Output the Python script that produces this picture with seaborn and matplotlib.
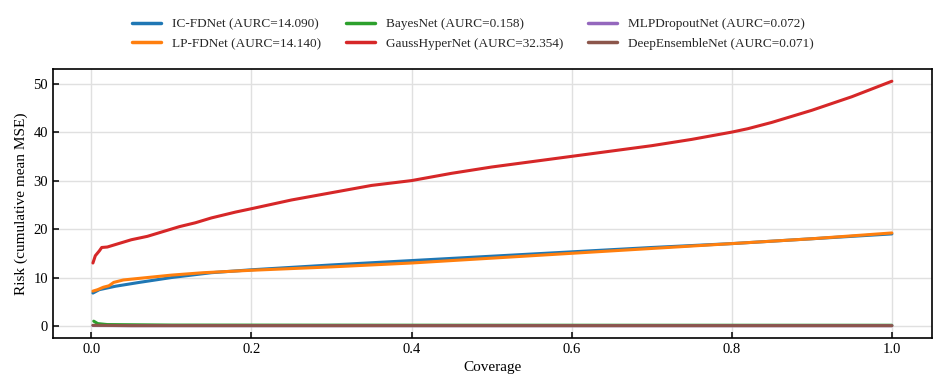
import numpy as np
import pandas as pd
import matplotlib
matplotlib.use("Agg")
import matplotlib.pyplot as plt
import seaborn as sns

# series
ic_x = [0.002, 0.01, 0.03, 0.06, 0.1, 0.15, 0.2, 0.3, 0.4, 0.5, 0.6, 0.7, 0.8, 0.9, 1.0]
ic_y = [6.8, 7.5, 8.2, 9.0, 10.0, 11.0, 11.6, 12.6, 13.5, 14.4, 15.3, 16.2, 17.0, 18.0, 19.0]

lp_x = [0.002, 0.008, 0.015, 0.022, 0.028, 0.04, 0.07, 0.1, 0.14, 0.2, 0.3, 0.4, 0.5, 0.6, 0.7, 0.8, 0.9, 1.0]
lp_y = [7.2, 7.5, 8.0, 8.3, 9.0, 9.5, 10.0, 10.5, 11.0, 11.5, 12.2, 13.0, 14.0, 15.0, 16.0, 17.0, 18.0, 19.2]

bayes_x = [0.003, 0.008, 0.02, 0.1, 0.4, 0.7, 1.0]
bayes_y = [1.0, 0.5, 0.3, 0.2, 0.17, 0.16, 0.16]

gauss_x = [0.002, 0.005, 0.01, 0.013, 0.02, 0.03, 0.04, 0.05, 0.07, 0.09, 0.11, 0.13, 0.15, 0.18,
           0.2, 0.25, 0.3, 0.35, 0.4, 0.45, 0.5, 0.6, 0.7, 0.75, 0.8, 0.82, 0.85, 0.9, 0.95, 1.0]
gauss_y = [13.0, 14.5, 15.5, 16.2, 16.3, 16.8, 17.3, 17.8, 18.5, 19.5, 20.5, 21.3, 22.3, 23.5,
           24.2, 26.0, 27.5, 29.0, 30.0, 31.5, 32.8, 35.0, 37.2, 38.5, 40.0, 40.7, 42.0, 44.5, 47.3, 50.5]

mlp_x = [0.002, 0.05, 0.5, 1.0]
mlp_y = [0.1, 0.07, 0.07, 0.07]

deep_x = [0.002, 0.05, 0.5, 1.0]
deep_y = [0.15, 0.08, 0.07, 0.07]

labels = ["IC-FDNet (AURC=14.090)", "LP-FDNet (AURC=14.140)", "BayesNet (AURC=0.158)",
          "GaussHyperNet (AURC=32.354)", "MLPDropoutNet (AURC=0.072)", "DeepEnsembleNet (AURC=0.071)"]
series = [(ic_x, ic_y), (lp_x, lp_y), (bayes_x, bayes_y), (gauss_x, gauss_y), (mlp_x, mlp_y), (deep_x, deep_y)]

frames = []
for lab, (xs, ys) in zip(labels, series):
    frames.append(pd.DataFrame({"Coverage": xs, "Risk": ys, "Model": lab}))
df = pd.concat(frames, ignore_index=True)

sns.set_theme(style="whitegrid")
plt.rcParams.update({
    "font.family": ["Liberation Serif", "DejaVu Serif"],
    "font.size": 10,
    "axes.edgecolor": "black",
    "axes.linewidth": 1.2,
    "grid.color": "#e0e0e0",
    "grid.linewidth": 1.0,
    "xtick.direction": "in",
    "ytick.direction": "in",
    "xtick.bottom": True,
    "ytick.left": True,
})

fig, ax = plt.subplots(figsize=(9.46, 3.92), dpi=100)
fig.subplots_adjust(left=0.056, right=0.985, top=0.824, bottom=0.138)

sns.lineplot(data=df, x="Coverage", y="Risk", hue="Model", hue_order=labels,
             palette=sns.color_palette("tab10", 6), linewidth=2.2, sort=False,
             estimator=None, ax=ax, legend=True)

ax.set_xlabel("Coverage", fontsize=11, color="black")
ax.set_ylabel("Risk (cumulative mean MSE)", fontsize=11, color="black")
ax.set_xticks([0.0, 0.2, 0.4, 0.6, 0.8, 1.0])
ax.set_yticks([0, 10, 20, 30, 40, 50])
ax.tick_params(axis="both", labelsize=10.5, colors="black", length=4, width=1.1)
for s in ax.spines.values():
    s.set_color("black")

handles, labs = ax.get_legend_handles_labels()
ax.get_legend().remove()
leg = fig.legend(handles, labs, loc="center", bbox_to_anchor=(0.5, 1 - 34 / 392), ncol=3,
                 frameon=False, fontsize=9.5, handlelength=2.2, columnspacing=1.9,
                 labelspacing=0.55)
for line in leg.get_lines():
    line.set_linewidth(2.5)

fig.savefig("out.png", dpi=100)
